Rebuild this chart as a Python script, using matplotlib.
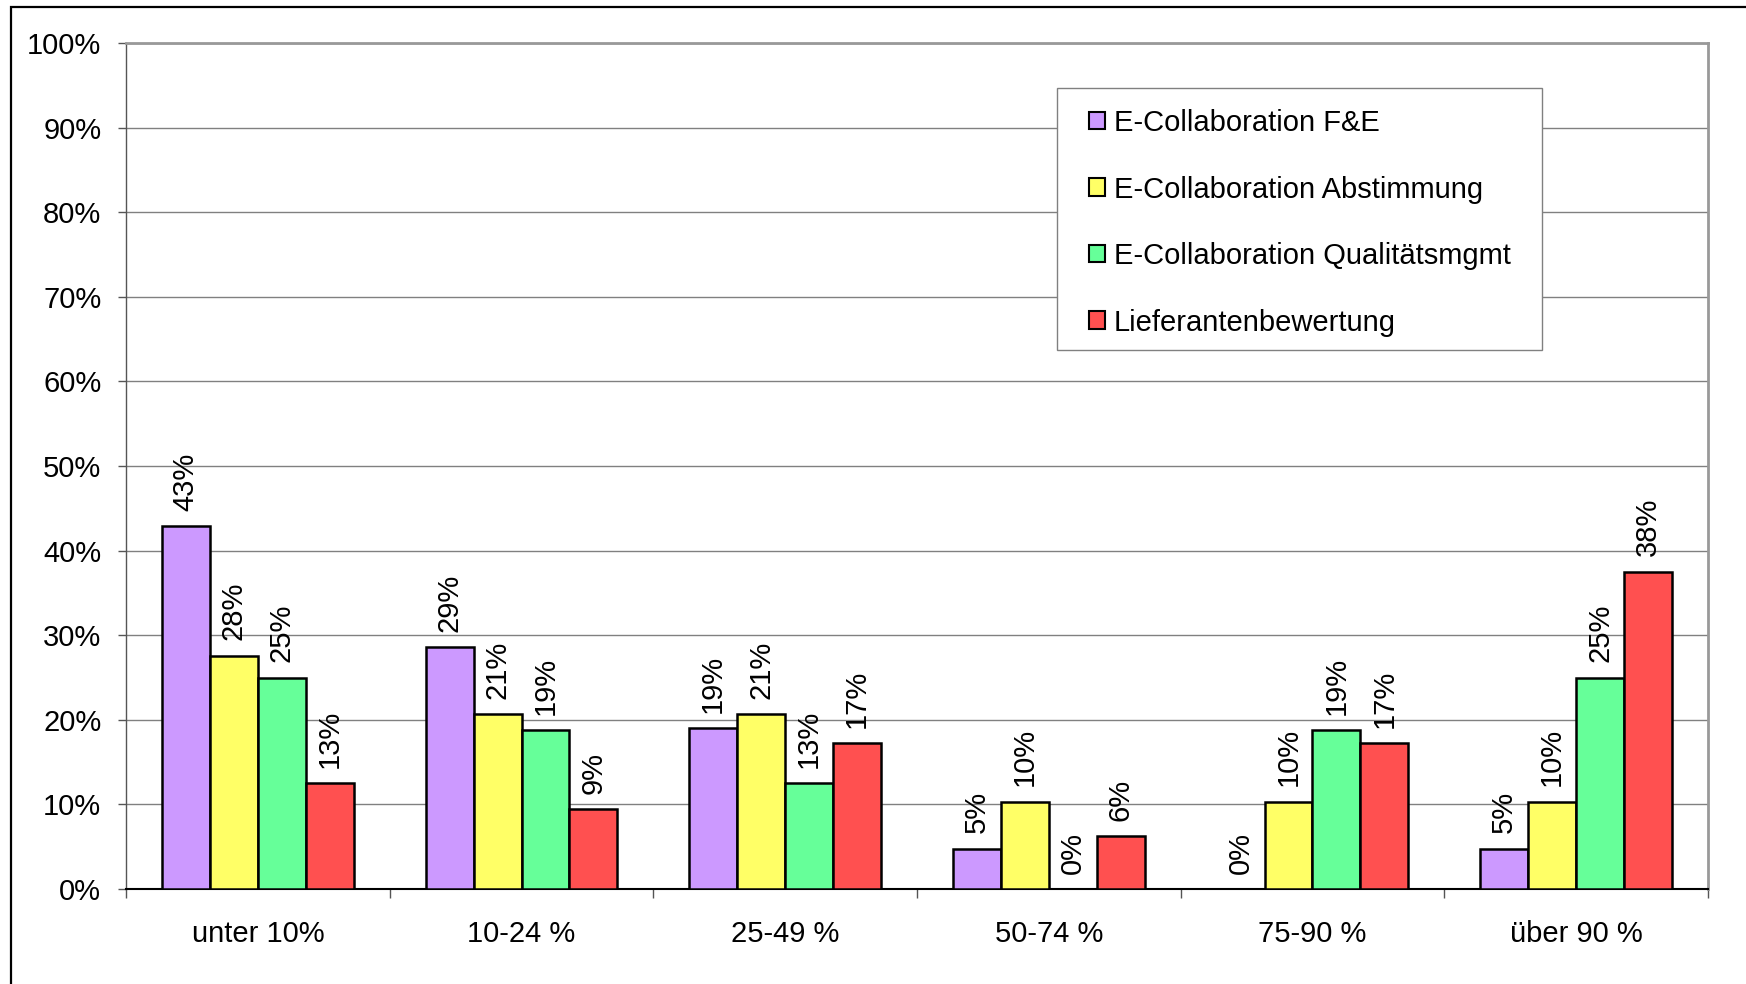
import matplotlib
matplotlib.use("Agg")
import matplotlib.pyplot as plt
import numpy as np
from matplotlib.patches import Rectangle

plt.rcParams['font.family'] = ['Liberation Sans', 'DejaVu Sans']

categories = ["unter 10%", "10-24 %", "25-49 %", "50-74 %", "75-90 %", "über 90 %"]
series_names = ["E-Collaboration F&E", "E-Collaboration Abstimmung",
                "E-Collaboration Qualitätsmgmt", "Lieferantenbewertung"]
fe = [0.4286, 0.2857, 0.1905, 0.0476, 0.0, 0.0476]
abstimmung = [0.2759, 0.2069, 0.2069, 0.1034, 0.1034, 0.1034]
qualitaet = [0.25, 0.1875, 0.125, 0.0, 0.1875, 0.25]
lieferanten = [0.125, 0.094, 0.172, 0.0625, 0.172, 0.375]
labels_fe = ["43%", "29%", "19%", "5%", "0%", "5%"]
labels_ab = ["28%", "21%", "21%", "10%", "10%", "10%"]
labels_qu = ["25%", "19%", "13%", "0%", "19%", "25%"]
labels_li = ["13%", "9%", "17%", "6%", "17%", "38%"]
yticks = [0, 0.1, 0.2, 0.3, 0.4, 0.5, 0.6, 0.7, 0.8, 0.9, 1.0]
ytick_labels = ["0%", "10%", "20%", "30%", "40%", "50%", "60%", "70%", "80%", "90%", "100%"]
colors = ["#CC99FF", "#FFFF66", "#66FF99", "#FF5050"]

FS = 21
W, H = 1746, 984
fig = plt.figure(figsize=(W / 100, H / 100), dpi=100)
fig.patch.set_facecolor("white")
ax = fig.add_axes([126 / W, 1 - 889 / H, (1708 - 126) / W, (889 - 43) / H])

all_series = [fe, abstimmung, qualitaet, lieferanten]
all_labels = [labels_fe, labels_ab, labels_qu, labels_li]
x = np.arange(len(categories))
bw = 0.182
for i, (vals, labs) in enumerate(zip(all_series, all_labels)):
    pos = x + (i - 1.5) * bw
    ax.bar(pos, vals, width=bw, color=colors[i], edgecolor="black",
           linewidth=1.8, label=series_names[i], zorder=3)
    for px, v, lab in zip(pos, vals, labs):
        ax.annotate(lab, (px, v), xytext=(0, 11), textcoords="offset points",
                    rotation=90, ha="center", va="bottom", fontsize=FS, zorder=4)

ax.set_xlim(-0.5, len(categories) - 0.5)
ax.set_ylim(0, 1.0)
ax.set_yticks(yticks)
ax.set_yticklabels(ytick_labels, fontsize=FS)
ax.set_xticks(x)
ax.set_xticklabels(categories, fontsize=FS)
ax.set_xticks(np.arange(-0.5, len(categories)), minor=True)
ax.tick_params(axis="x", which="major", length=0, pad=22)
ax.tick_params(axis="x", which="minor", length=6.5, width=1, color="#555555", direction="out")
ax.tick_params(axis="y", length=5.8, width=1, color="#555555", direction="out", pad=12)
ax.yaxis.grid(True, color="#808080", linewidth=1.0, zorder=0)
ax.set_axisbelow(True)
ax.spines["top"].set_color("#999999")
ax.spines["top"].set_linewidth(2.0)
ax.spines["right"].set_color("#999999")
ax.spines["right"].set_linewidth(2.0)
ax.spines["left"].set_color("#555555")
ax.spines["left"].set_linewidth(1.0)
ax.spines["bottom"].set_color("black")
ax.spines["bottom"].set_linewidth(1.5)

# legend frame drawn separately
fig.patches.append(Rectangle((1057 / W, 1 - 350 / H), (1542 - 1057) / W, (350 - 88) / H,
                             transform=fig.transFigure, facecolor="white",
                             edgecolor="#808080", linewidth=1.0, zorder=5))
leg = ax.legend(loc="upper left", bbox_to_anchor=(1089 / W, 1 - 109 / H),
                bbox_transform=fig.transFigure, fontsize=FS, frameon=False,
                handlelength=0.55, handleheight=0.55, handletextpad=0.3,
                labelspacing=1.32, borderpad=0, borderaxespad=0)
leg.set_zorder(6)
for h in leg.legend_handles:
    h.set_linewidth(1.5)
leg.remove()
fig.legends.append(leg)
leg.set_figure(fig)

fig.patches.append(Rectangle((11 / W, -0.1), 1.2, 1 - 7 / H + 0.1,
                             transform=fig.transFigure, fill=False,
                             edgecolor="black", linewidth=1.6))

fig.savefig("out.png", dpi=100)
